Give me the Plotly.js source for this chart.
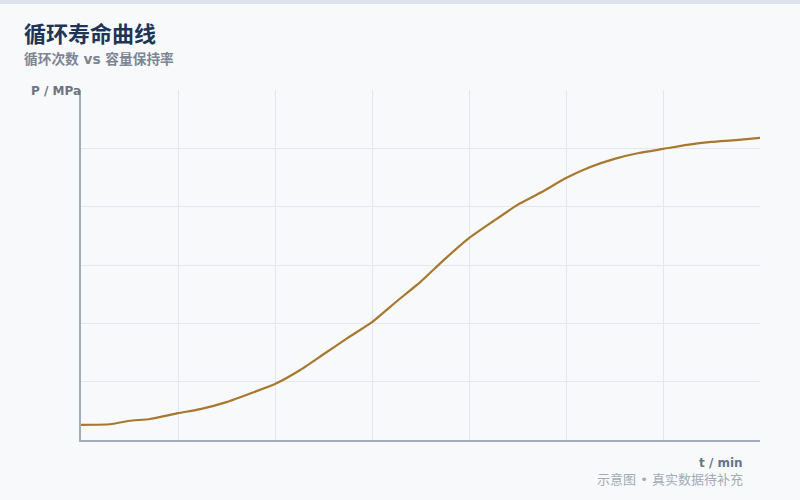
<!DOCTYPE html>
<html>
<head>
<meta charset="utf-8">
<script src="https://cdn.plot.ly/plotly-3.0.1.min.js"></script>
<style>
  html, body { margin: 0; padding: 0; background: #f8f9fb; }
  #topbar { position: absolute; left: 0; top: 0; width: 800px; height: 4px; background: #dde3ea; z-index: 5; }
  #chart { width: 800px; height: 500px; }
</style>
</head>
<body>
<div id="topbar"></div>
<div id="chart"></div>
<script>
// cycle life curve
var tMin = [0, 30, 50, 71, 100, 123, 150, 178, 200, 226, 250, 275, 300, 325, 350, 375,
            400, 425, 450, 475, 500, 525, 550, 575, 600, 625, 650, 675, 700];
var pMPa = [2.6, 2.7, 3.3, 3.6, 4.6, 5.3, 6.5, 8.2, 9.6, 12.0, 14.7, 17.5, 20.2, 23.7, 27.1, 31.0,
            34.6, 37.5, 40.3, 42.5, 44.9, 46.8, 48.2, 49.2, 49.9, 50.6, 51.1, 51.4, 51.8];

var xRange = [0, 700];
var yRange = [0, 60];

var fontFam = '"DejaVu Sans", "Noto Sans CJK SC", sans-serif';

var trace = {
  x: tMin,
  y: pMPa,
  type: 'scatter',
  mode: 'lines',
  line: { color: '#a8782f', width: 2.2, shape: 'spline', smoothing: 0.5 },
  hoverinfo: 'skip'
};

var layout = {
  width: 800,
  height: 500,
  paper_bgcolor: '#f8f9fb',
  plot_bgcolor: '#f8f9fb',
  margin: { l: 81, r: 40, t: 90, b: 60 },
  showlegend: false,
  font: { family: fontFam, color: '#7b8594' },
  xaxis: {
    range: xRange,
    dtick: 100,
    showticklabels: false,
    ticks: '',
    showgrid: true,
    gridcolor: '#e3e8f0',
    gridwidth: 1,
    zeroline: false,
    showline: true,
    linecolor: '#a3adbb',
    linewidth: 2
  },
  yaxis: {
    range: yRange,
    dtick: 10,
    showticklabels: false,
    ticks: '',
    showgrid: true,
    gridcolor: '#e3e8f0',
    gridwidth: 1,
    zeroline: false,
    showline: true,
    linecolor: '#a3adbb',
    linewidth: 2
  },
  annotations: [
    { text: '<b>循环寿命曲线</b>', xref: 'paper', yref: 'paper',
      x: -59/679, y: 1 + 56/350, xanchor: 'left', yanchor: 'middle', showarrow: false,
      font: { size: 22, color: '#1d3557', family: fontFam } },
    { text: '<b>循环次数 vs 容量保持率</b>', xref: 'paper', yref: 'paper',
      x: -59/679, y: 1 + 31/350, xanchor: 'left', yanchor: 'middle', showarrow: false,
      font: { size: 13.7, color: '#7b8594', family: fontFam } },
    { text: '<b>P / MPa</b>', xref: 'paper', yref: 'paper',
      x: -52/679, y: 1 - 1/350, xanchor: 'left', yanchor: 'middle', showarrow: false,
      font: { size: 12, color: '#6b7583', family: fontFam } },
    { text: '<b>t / min</b>', xref: 'paper', yref: 'paper',
      x: 1 - 15/679, y: -23/350, xanchor: 'right', yanchor: 'middle', showarrow: false,
      font: { size: 12, color: '#6b7583', family: fontFam } },
    { text: '示意图 • 真实数据待补充', xref: 'paper', yref: 'paper',
      x: 1 - 15/679, y: -39/350, xanchor: 'right', yanchor: 'middle', showarrow: false,
      font: { size: 13, color: '#a3abb7', family: fontFam } }
  ]
};

Plotly.newPlot('chart', [trace], layout, { displayModeBar: false, staticPlot: true });
</script>
</body>
</html>
